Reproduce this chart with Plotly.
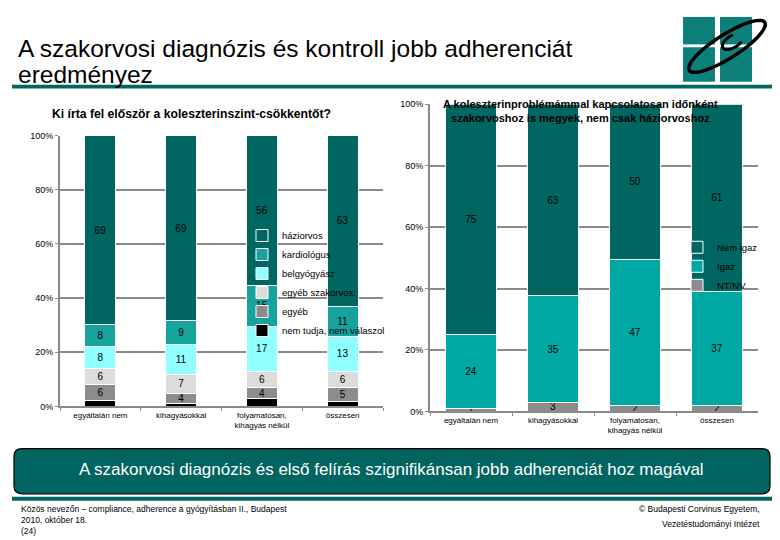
import numpy as np
import plotly.graph_objects as go

# ---------------- data ----------------
left_categories = ["egyáltalán nem", "kihagyásokkal", "folyamatosan,<br>kihagyás nélkül", "összesen"]
left_series_names = ["nem tudja, nem válaszol", "egyéb", "egyéb szakorvos:", "belgyógyász", "kardiológus", "háziorvos"]
left_nem_tudja = [2, 1, 3, 2]
left_egyeb = [6, 4, 4, 5]
left_egyeb_szakorvos = [6, 7, 6, 6]
left_belgyogyasz = [8, 11, 17, 13]
left_kardiologus = [8, 9, 15, 11]
left_haziorvos = [69, 69, 56, 63]

right_categories = ["egyáltalán nem", "kihagyásokkal", "folyamatosan,<br>kihagyás nélkül", "összesen"]
right_series_names = ["NT/NV", "Igaz", "Nem igaz"]
right_ntnv = [1, 3, 2, 2]
right_igaz = [24, 35, 47, 37]
right_nem_igaz = [75, 63, 50, 61]

y_ticks = [0, 20, 40, 60, 80, 100]
y_tick_labels = ["0%", "20%", "40%", "60%", "80%", "100%"]

# ---------------- geometry helpers (page body has an 8px margin) ----------------
OFF = 8
W, H = 780 - OFF, 540 - OFF
def px(x):
    return (x - OFF) / W
def py(y):
    return 1 - (y - OFF) / H

DARK = "#006662"
TEAL = "#16A39E"
TEAL_R = "#00A8A4"
CYAN = "#8FFFFF"
LGRAY = "#DCDCDC"
GRAY = "#8C8C8C"
BLACK = "#000000"
GRID = "#8A8A8A"

left_colors = [BLACK, GRAY, LGRAY, CYAN, TEAL, DARK]
left_values = [left_nem_tudja, left_egyeb, left_egyeb_szakorvos, left_belgyogyasz, left_kardiologus, left_haziorvos]
right_colors = [GRAY, TEAL_R, DARK]
right_values = [right_ntnv, right_igaz, right_nem_igaz]

fig = go.Figure()

for name, vals, col in zip(left_series_names, left_values, left_colors):
    fig.add_trace(go.Bar(
        x=left_categories, y=vals, name=name, text=vals, texttemplate="%{text}",
        textposition="inside", insidetextanchor="middle", textangle=0,
        textfont=dict(family="Arial", size=10, color="black"),
        marker=dict(color=col, line=dict(color="white", width=1)),
        width=0.385, xaxis="x", yaxis="y", legend="legend", hoverinfo="skip"))

for name, vals, col in zip(right_series_names, right_values, right_colors):
    fig.add_trace(go.Bar(
        x=right_categories, y=vals, name=name, text=vals, texttemplate="%{text}",
        textposition="inside", insidetextanchor="middle", textangle=0,
        textfont=dict(family="Arial", size=10, color="black"),
        marker=dict(color=col, line=dict(color="white", width=1)),
        width=0.634, xaxis="x2", yaxis="y2", legend="legend2", hoverinfo="skip"))

def xax(lo, hi, anchor):
    return dict(domain=[px(lo), px(hi)], anchor=anchor, showgrid=False, showline=True,
                linecolor=GRID, linewidth=2, ticks="outside", tickson="boundaries", ticklen=3,
                tickcolor=GRID, tickfont=dict(family="Arial", size=8, color="black"),
                fixedrange=True)

def yax(lo, hi, anchor):
    return dict(domain=[py(lo), py(hi)], anchor=anchor, range=[0, 100],
                tickmode="array", tickvals=y_ticks, ticktext=y_tick_labels,
                showgrid=True, gridcolor=GRID, gridwidth=2, showline=True, linecolor=GRID,
                linewidth=2, ticks="outside", ticklen=3, tickcolor=GRID, zeroline=False,
                tickfont=dict(family="Arial", size=9, color="black"), fixedrange=True)

fig.update_layout(
    width=W, height=H, margin=dict(l=0, r=0, t=0, b=0),
    paper_bgcolor="white", plot_bgcolor="white",
    barmode="stack", barnorm="percent",
    uniformtext=dict(mode="show", minsize=10),
    font=dict(family="Arial", color="black"),
    xaxis=xax(60, 383, "y"),
    yaxis=yax(409, 133, "x"),
    xaxis2=xax(430, 758, "y2"),
    yaxis2=yax(414, 101, "x2"),
    legend=dict(x=px(242), y=py(220), xanchor="left", yanchor="top", traceorder="reversed",
                bgcolor="rgba(0,0,0,0)", itemwidth=30, tracegroupgap=0,
                font=dict(family="Arial", size=9.5, color="black")),
    legend2=dict(x=px(677), y=py(232), xanchor="left", yanchor="top", traceorder="reversed",
                 bgcolor="rgba(0,0,0,0)", itemwidth=30,
                 font=dict(family="Arial", size=9.5, color="black")),
    showlegend=True,
)

annotations = [
    dict(text="A szakorvosi diagnózis és kontroll jobb adherenciát", x=px(16), y=py(44),
         font=dict(size=24.5, family="Arial", color="black"), xanchor="left"),
    dict(text="eredményez", x=px(16), y=py(71),
         font=dict(size=24.5, family="Arial", color="black"), xanchor="left"),
    dict(text="<b>Ki írta fel először a koleszterinszint-csökkentőt?</b>", x=px(50), y=py(111),
         font=dict(size=12.2, family="Arial", color="black"), xanchor="left"),
    dict(text="<b>A koleszterinproblémámmal kapcsolatosan időnként<br>szakorvoshoz is megyek, nem csak háziorvoshoz</b>",
         x=px(580), y=py(108), font=dict(size=11, family="Arial", color="black"), xanchor="center"),
    dict(text="A szakorvosi diagnózis és első felírás szignifikánsan jobb adherenciát hoz magával",
         x=px(391), y=py(473), font=dict(size=17, family="Arial", color="white"), xanchor="center"),
    dict(text="Közös nevezőn – compliance, adherence a gyógyításban II., Budapest<br>2010. október 18.<br>(24)",
         x=px(19), y=py(525), font=dict(size=8.5, family="Arial", color="black"), xanchor="left", align="left"),
    dict(text="© Budapesti Corvinus Egyetem,", x=px(762), y=py(514),
         font=dict(size=8.5, family="Arial", color="black"), xanchor="right"),
    dict(text="Vezetéstudományi Intézet", x=px(762), y=py(529),
         font=dict(size=8.5, family="Arial", color="black"), xanchor="right"),
]
for a in annotations:
    a.update(xref="paper", yref="paper", showarrow=False, yanchor="middle")
fig.update_layout(annotations=annotations)

LOGO = "#0E807B"
shapes = [
    dict(type="rect", x0=px(12), x1=px(772), y0=py(85), y1=py(81), fillcolor=DARK, line=dict(width=0)),
    dict(type="rect", x0=px(12), x1=px(772), y0=py(505), y1=py(501), fillcolor=DARK, line=dict(width=0)),
    dict(type="rect", x0=px(683), x1=px(715), y0=py(40), y1=py(12), fillcolor=LOGO, line=dict(width=0)),
    dict(type="rect", x0=px(720), x1=px(752), y0=py(40), y1=py(12), fillcolor=LOGO, line=dict(width=0)),
    dict(type="rect", x0=px(683), x1=px(715), y0=py(78), y1=py(43), fillcolor=LOGO, line=dict(width=0)),
    dict(type="rect", x0=px(720), x1=px(752), y0=py(78), y1=py(43), fillcolor=LOGO, line=dict(width=0)),
]
r = 8
bx0, bx1, by0, by1 = 14, 770, 452, 498
path = (f"M {px(bx0+r)},{py(by0)} L {px(bx1-r)},{py(by0)} Q {px(bx1)},{py(by0)} {px(bx1)},{py(by0+r)} "
        f"L {px(bx1)},{py(by1-r)} Q {px(bx1)},{py(by1)} {px(bx1-r)},{py(by1)} "
        f"L {px(bx0+r)},{py(by1)} Q {px(bx0)},{py(by1)} {px(bx0)},{py(by1-r)} "
        f"L {px(bx0)},{py(by0+r)} Q {px(bx0)},{py(by0)} {px(bx0+r)},{py(by0)} Z")
shapes.append(dict(type="path", path=path, fillcolor="#006460", line=dict(color="black", width=1.2)))
t = np.linspace(0, 2 * np.pi, 60)
cx, cy, a_, b_, ang = 727, 42, 45, 12, np.deg2rad(-33)
ex = cx + a_ * np.cos(t) * np.cos(ang) - b_ * np.sin(t) * np.sin(ang)
ey = cy + a_ * np.cos(t) * np.sin(ang) + b_ * np.sin(t) * np.cos(ang)
epath = "M " + " L ".join(f"{px(x)},{py(y)}" for x, y in zip(ex, ey)) + " Z"
shapes.append(dict(type="path", path=epath, line=dict(color="black", width=3.5)))
t2 = np.linspace(0.3 * np.pi, 1.6 * np.pi, 30)
cx2, cy2 = 733, 37
ex2 = cx2 + 12 * np.cos(t2) * np.cos(ang) - 6 * np.sin(t2) * np.sin(ang)
ey2 = cy2 + 12 * np.cos(t2) * np.sin(ang) + 6 * np.sin(t2) * np.cos(ang)
epath2 = "M " + " L ".join(f"{px(x)},{py(y)}" for x, y in zip(ex2, ey2))
shapes.append(dict(type="path", path=epath2, line=dict(color="black", width=3)))
for s in shapes:
    s["xref"] = "paper"
    s["yref"] = "paper"
    s["layer"] = "above"
fig.update_layout(shapes=shapes)

fig.write_html("out.html")
